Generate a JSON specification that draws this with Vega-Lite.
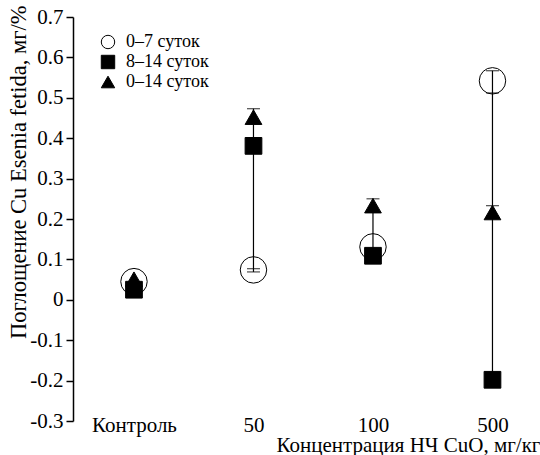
{
  "$schema": "https://vega.github.io/schema/vega-lite/v6.json",
  "width": 467,
  "height": 404,
  "autosize": {"type": "none"},
  "padding": {"left": 73, "top": 17, "right": 0, "bottom": 34},
  "background": "white",
  "config": {
    "font": "Liberation Serif",
    "view": {"stroke": null},
    "style": {"guide-label": {"font": "Liberation Serif", "fontSize": 21, "fill": "black"}, "guide-title": {"font": "Liberation Serif", "fontWeight": "normal", "fill": "black"}},
    "axis": {"grid": false, "labelColor": "black", "titleColor": "black", "labelFont": "Liberation Serif", "labelFontSize": 21, "titleFont": "Liberation Serif", "titleFontWeight": "normal"},
    "legend": {"labelFont": "Liberation Serif", "labelColor": "black"}
  },
  "datasets": {
    "points": [
      {"conc": "Контроль", "series": "0–7 суток", "value": 0.045},
      {"conc": "50", "series": "0–7 суток", "value": 0.074},
      {"conc": "100", "series": "0–7 суток", "value": 0.131},
      {"conc": "500", "series": "0–7 суток", "value": 0.542},
      {"conc": "Контроль", "series": "8–14 суток", "value": 0.025},
      {"conc": "50", "series": "8–14 суток", "value": 0.381},
      {"conc": "100", "series": "8–14 суток", "value": 0.109},
      {"conc": "500", "series": "8–14 суток", "value": -0.198},
      {"conc": "Контроль", "series": "0–14 суток", "value": 0.051},
      {"conc": "50", "series": "0–14 суток", "value": 0.452},
      {"conc": "100", "series": "0–14 суток", "value": 0.233},
      {"conc": "500", "series": "0–14 суток", "value": 0.216}
    ],
    "ranges": [
      {"conc": "50", "lo": 0.069, "hi": 0.473},
      {"conc": "100", "lo": 0.109, "hi": 0.25},
      {"conc": "500", "lo": -0.198, "hi": 0.567}
    ],
    "caps": [
      {"conc": "50", "cap": 0.473},
      {"conc": "50", "cap": 0.077},
      {"conc": "50", "cap": 0.069},
      {"conc": "100", "cap": 0.25},
      {"conc": "500", "cap": 0.567},
      {"conc": "500", "cap": 0.512},
      {"conc": "500", "cap": 0.233}
    ]
  },
  "encoding": {
    "x": {
      "field": "conc",
      "type": "nominal",
      "sort": ["Контроль", "50", "100", "500"],
      "scale": {"type": "point", "domain": ["Контроль", "50", "100", "500"], "padding": 0.454, "align": 0.562},
      "axis": {
        "title": "Концентрация НЧ CuO, мг/кг",
        "titleFontSize": 21,
        "titleFont": "Liberation Serif",
        "titleAnchor": "end",
        "titleAlign": "right",
        "titlePadding": -1,
        "labelAngle": 0,
        "labelFont": "Liberation Serif",
        "labelFontSize": 21,
        "labelPadding": -7,
        "domain": false,
        "ticks": false
      }
    },
    "y": {
      "type": "quantitative",
      "scale": {"domain": [-0.3, 0.7], "nice": false, "zero": false},
      "axis": {
        "title": "Поглощение Cu Esenia fetida, мг/%",
        "titleFont": "Liberation Serif",
        "titleFontSize": 22.5,
        "titleAnchor": "end",
        "titleBaseline": "middle",
        "titleX": -55,
        "titleY": -12,
        "values": [-0.3, -0.2, -0.1, 0, 0.1, 0.2, 0.3, 0.4, 0.5, 0.6, 0.7],
        "labelExpr": "replace(format(datum.value, '.1~f'), '−', '-')",
        "labelFont": "Liberation Serif",
        "labelFontSize": 21,
        "labelPadding": 3,
        "tickSize": 7,
        "tickColor": "black",
        "tickWidth": 1.5,
        "domainColor": "black",
        "domainWidth": 1.5
      }
    }
  },
  "layer": [
    {
      "mark": {"type": "rule", "color": "black", "strokeWidth": 1.5},
      "encoding": {"y": {"datum": 0, "type": "quantitative"}, "x": null}
    },
    {
      "data": {"name": "ranges"},
      "mark": {"type": "rule", "color": "black", "strokeWidth": 1.2},
      "encoding": {
        "y": {"field": "lo", "type": "quantitative"},
        "y2": {"field": "hi"}
      }
    },
    {
      "data": {"name": "caps"},
      "mark": {"type": "tick", "color": "black", "thickness": 1.2, "size": 13, "orient": "horizontal"},
      "encoding": {
        "y": {"field": "cap", "type": "quantitative"}
      }
    },
    {
      "data": {"name": "points"},
      "transform": [{"filter": "datum.series == '0–7 суток'"}],
      "mark": {"type": "point", "filled": true, "stroke": "black", "strokeWidth": 1, "opacity": 1, "size": 700},
      "encoding": {
        "y": {"field": "value", "type": "quantitative"},
        "shape": {"field": "series", "type": "nominal"},
        "fill": {"field": "series", "type": "nominal"}
      }
    },
    {
      "data": {"name": "points"},
      "transform": [{"filter": "datum.series != '0–7 суток'"}],
      "mark": {"type": "point", "filled": true, "stroke": "black", "strokeWidth": 1, "opacity": 1, "size": 280},
      "encoding": {
        "y": {"field": "value", "type": "quantitative"},
        "shape": {
          "field": "series",
          "type": "nominal",
          "scale": {"domain": ["0–7 суток", "8–14 суток", "0–14 суток"], "range": ["circle", "square", "triangle-up"]},
          "legend": {
            "title": null,
            "orient": "none",
            "legendX": 26,
            "legendY": 16,
            "labelFont": "Liberation Serif",
            "labelFontSize": 18,
            "symbolSize": 180,
            "symbolStrokeColor": "black",
            "symbolStrokeWidth": 1,
            "rowPadding": 2,
            "labelOffset": 9
          }
        },
        "fill": {
          "field": "series",
          "type": "nominal",
          "scale": {"domain": ["0–7 суток", "8–14 суток", "0–14 суток"], "range": ["rgba(255,255,255,0)", "black", "black"]}
        }
      }
    }
  ]
}
